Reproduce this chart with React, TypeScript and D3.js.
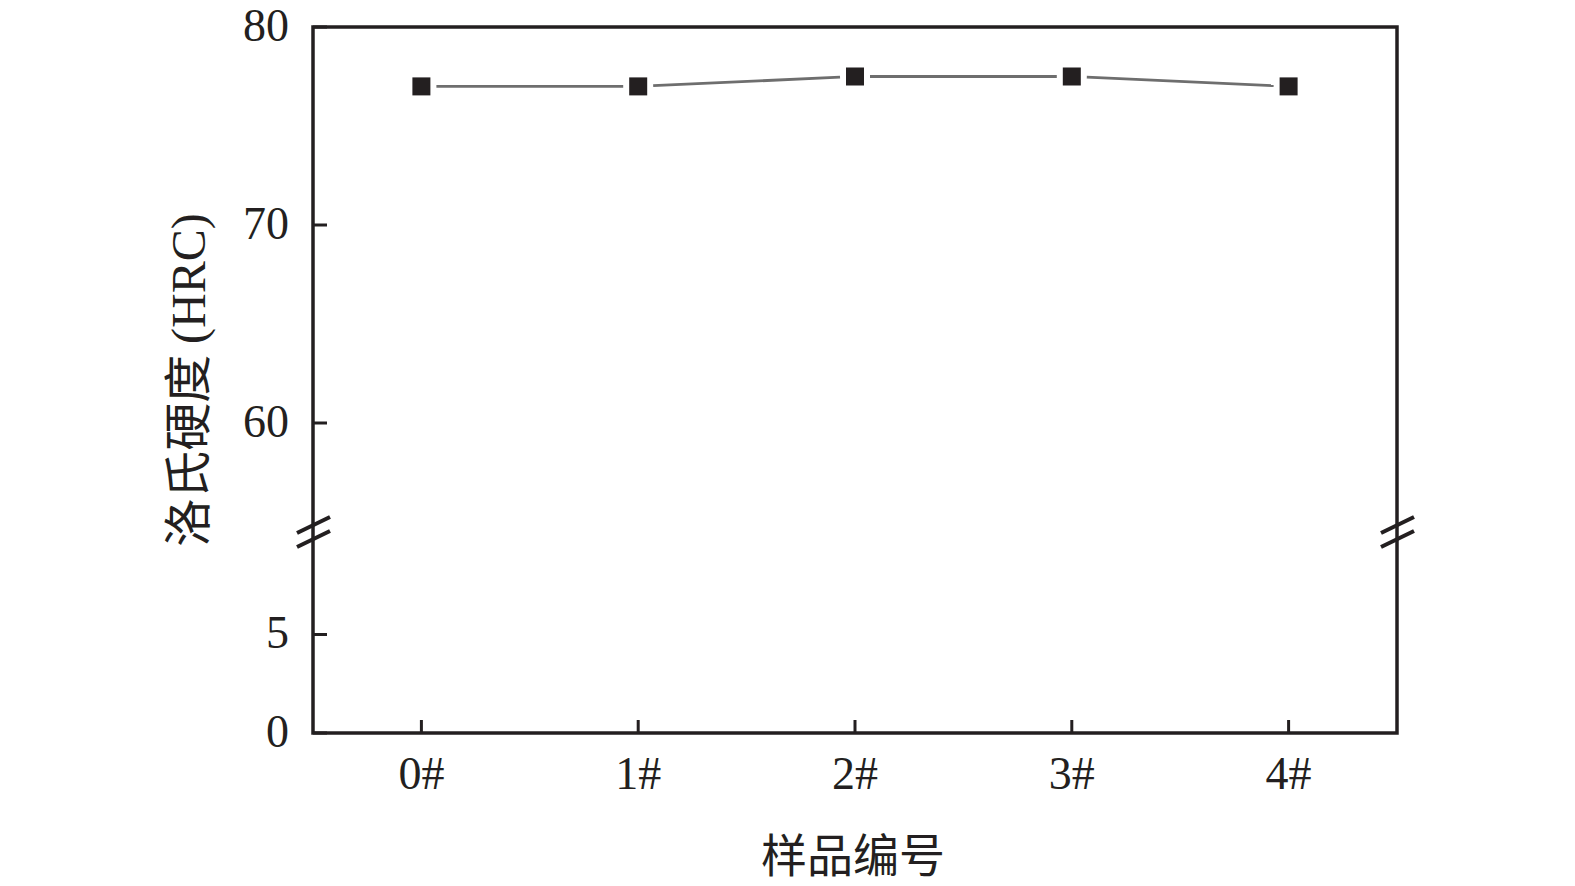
import React from "react";
import * as d3 from "d3";

const categories = ["0#", "1#", "2#", "3#", "4#"];
const hardness = [77, 77, 77.5, 77.5, 77];
const upperTicks = [80, 70, 60];
const lowerTicks = [5, 0];
const xTitle = "样品编号";
const yTitleCn = "洛氏硬度 ";
const yTitleEn = "(HRC)";

export default function App() {
  const W = 1575, H = 886;
  const left = 313, right = 1397, top = 27, bottom = 733;
  const ink = "#231f20";
  const x = d3.scaleLinear().domain([-0.5, categories.length - 0.5]).range([left, right]);
  const yUp = d3.scaleLinear().domain([55, 80]).range([522, top]);
  const yLo = d3.scaleLinear().domain([0, 10]).range([bottom, 536]);
  const serif = "'Liberation Serif', 'Times New Roman', serif";
  const cjk = "'Noto Sans CJK SC', sans-serif";
  const fs = 46;
  const ms = 18;
  const gap = 6;

  const segs = hardness.slice(1).map((v, i) => {
    const x0 = x(i), y0 = yUp(hardness[i]);
    const x1 = x(i + 1), y1 = yUp(v);
    const dx = x1 - x0, dy = y1 - y0;
    const len = Math.hypot(dx, dy);
    const off = ms / 2 + gap;
    return {
      x1: x0 + (dx / len) * off, y1: y0 + (dy / len) * off,
      x2: x1 - (dx / len) * off, y2: y1 - (dy / len) * off,
    };
  });

  const breakMarks = (cx: number) => (
    <g stroke={ink} strokeWidth={4}>
      <line x1={cx - 16} y1={533} x2={cx + 17} y2={517} />
      <line x1={cx - 16} y1={547} x2={cx + 17} y2={531} />
    </g>
  );

  return (
    <svg width={W} height={H} style={{ position: "absolute", left: 0, top: 0, background: "#fff" }}>
      <rect x={0} y={0} width={W} height={H} fill="#fff" />
      <rect x={left} y={top} width={right - left} height={bottom - top} fill="none" stroke={ink} strokeWidth={3.5} />
      {breakMarks(left)}
      {breakMarks(right)}
      {upperTicks.map((t) => (
        <g key={"u" + t}>
          <line x1={left} x2={left + 14} y1={yUp(t)} y2={yUp(t)} stroke={ink} strokeWidth={3} />
          <text x={289} y={yUp(t) - 2} dy="0.34em" textAnchor="end" fontFamily={serif} fontSize={fs} fill={ink}>{t}</text>
        </g>
      ))}
      {lowerTicks.map((t) => (
        <g key={"l" + t}>
          <line x1={left} x2={left + 14} y1={yLo(t)} y2={yLo(t)} stroke={ink} strokeWidth={3} />
          <text x={289} y={yLo(t) - 2} dy="0.34em" textAnchor="end" fontFamily={serif} fontSize={fs} fill={ink}>{t}</text>
        </g>
      ))}
      {categories.map((c, i) => (
        <g key={c}>
          <line x1={x(i)} x2={x(i)} y1={bottom} y2={bottom - 13} stroke={ink} strokeWidth={3} />
          <text x={x(i)} y={773} dy="0.34em" textAnchor="middle" fontFamily={serif} fontSize={fs} fill={ink}>{c}</text>
        </g>
      ))}
      {segs.map((s, i) => (
        <line key={i} {...s} stroke="#6e6e6e" strokeWidth={2.8} />
      ))}
      {hardness.map((v, i) => (
        <rect key={i} x={x(i) - ms / 2} y={yUp(v) - ms / 2} width={ms} height={ms} fill={ink} />
      ))}
      <text x={853} y={855} dy="0.36em" textAnchor="middle" fontFamily={cjk} fontSize={fs} fill={ink}>{xTitle}</text>
      <text transform={`translate(188,380) rotate(-90)`} dy="0.36em" textAnchor="middle" fontSize={48} fill={ink}>
        <tspan fontFamily={cjk}>{yTitleCn}</tspan>
        <tspan fontFamily={serif}>{yTitleEn}</tspan>
      </text>
    </svg>
  );
}
